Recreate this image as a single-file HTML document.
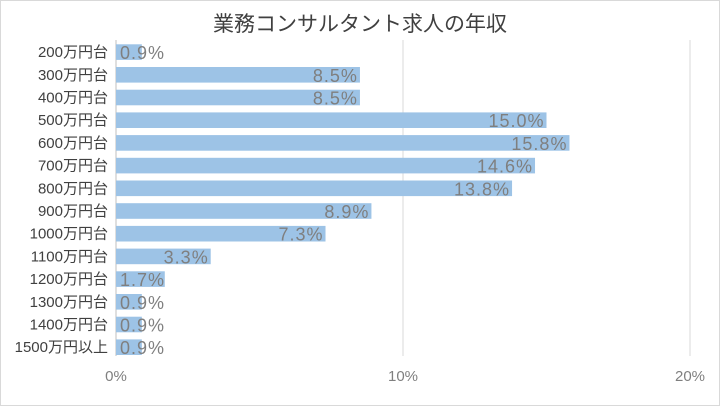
<!DOCTYPE html>
<html><head><meta charset="utf-8"><style>
body{margin:0;background:#fff}
svg{display:block;font-family:"Liberation Sans","Noto Sans CJK JP",sans-serif}
</style></head><body>
<svg id="c" width="720" height="406">
<rect x="0.5" y="0.5" width="719" height="405" fill="#fff" stroke="#d9d9d9"/>
<text x="360" y="31" text-anchor="middle" font-size="21" fill="#404040">業務コンサルタント求人の年収</text>
<g id="grid"></g><g id="bars"></g><g id="labels"></g>
</svg>
<script>
const categories=["200万円台","300万円台","400万円台","500万円台","600万円台","700万円台","800万円台","900万円台","1000万円台","1100万円台","1200万円台","1300万円台","1400万円台","1500万円以上"];
const values=[0.9,8.5,8.5,15.0,15.8,14.6,13.8,8.9,7.3,3.3,1.7,0.9,0.9,0.9];
const ticks=[0,10,20];
const svg=document.getElementById('c'),NS="http://www.w3.org/2000/svg";
const x0=116,x1=690,vmax=20,top0=44.3,pitch=22.7,bh=15.6;
const X=v=>x0+(x1-x0)*v/vmax;
const Y=i=>top0+i*pitch;
function mk(t,a,p){const e=document.createElementNS(NS,t);for(const k in a)e.setAttribute(k,a[k]);document.getElementById(p).appendChild(e);return e;}
ticks.forEach(t=>{
 const l=mk('line',{x1:X(t),x2:X(t),y1:40,y2:356,stroke:t===0?'#bfbfbf':'#d9d9d9'},'grid');
 
 
 const tx=mk('text',{x:X(t),y:381,'text-anchor':'middle','font-size':15,fill:'#7f7f7f'},'grid');
 tx.textContent=t+'%';
 
 
});
categories.forEach((c,i)=>{
 const y=Y(i);
 const t=mk('text',{x:108,y:y+bh/2+5,'text-anchor':'end','font-size':15,fill:'#404040'},'labels');
 t.textContent=c;
 
 
 const b=mk('rect',{x:x0,y:y,width:X(values[i])-x0,height:bh,fill:'#9dc3e6'},'bars');
 
 
 const v=mk('text',{x:0,y:y+bh/2+7,'font-size':18,'letter-spacing':1,fill:'#7f7f7f'},'labels');
 v.textContent=values[i].toFixed(1)+'%';
 
 
 const w=v.getComputedTextLength();
 v.setAttribute('x',Math.max(X(values[i])-2-w,x0+4));
});
</script>
</body></html>
